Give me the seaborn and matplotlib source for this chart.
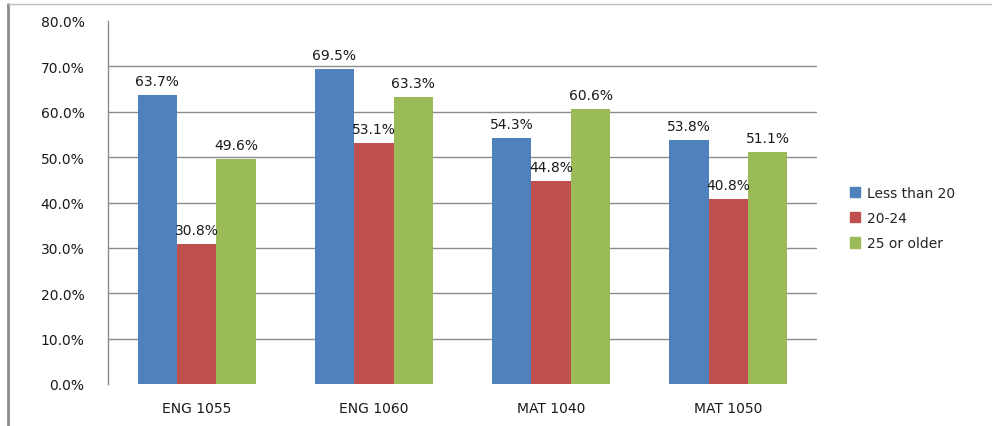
import matplotlib
matplotlib.use("Agg")
import matplotlib.pyplot as plt
from matplotlib.lines import Line2D
from matplotlib.ticker import FixedLocator
import seaborn as sns
import pandas as pd

courses = ["ENG 1055", "ENG 1060", "MAT 1040", "MAT 1050"]
age_groups = ["Less than 20", "20-24", "25 or older"]
less_than_20 = [63.7, 69.5, 54.3, 53.8]
age_20_24 = [30.8, 53.1, 44.8, 40.8]
age_25_plus = [49.6, 63.3, 60.6, 51.1]
y_ticks = [0, 10, 20, 30, 40, 50, 60, 70, 80]

palette = ["#4F81BD", "#C0504D", "#9BBB59"]

rows = []
for group, vals in zip(age_groups, [less_than_20, age_20_24, age_25_plus]):
    for course, v in zip(courses, vals):
        rows.append({"course": course, "age": group, "rate": v})
df = pd.DataFrame(rows)

sns.set_style("white")
plt.rcParams["font.family"] = ["DejaVu Sans"]
FS = 10

fig = plt.figure(figsize=(9.92, 4.27), dpi=100)
ax = fig.add_axes([108 / 992, 1 - 385 / 427, (817 - 108) / 992, (385 - 22) / 427])

sns.barplot(data=df, x="course", y="rate", hue="age", order=courses,
            hue_order=age_groups, palette=palette, width=2 / 3, gap=0,
            saturation=1, linewidth=0, ax=ax, legend=True)

ax.set_xlim(-0.5, len(courses) - 0.5)
ax.set_ylim(0, 80)
ax.set_yticks(y_ticks)
ax.set_yticklabels([f"{t:.1f}%" for t in y_ticks])
ax.set_xlabel("")
ax.set_ylabel("")

# horizontal gridlines
for t in y_ticks[1:-1]:
    ax.axhline(t, color="#8c8c8c", lw=1, zorder=0)

for side in ["top", "right", "bottom"]:
    ax.spines[side].set_visible(False)
ax.spines["left"].set_color("#8c8c8c")
ax.spines["left"].set_linewidth(1)

ax.tick_params(axis="y", length=0, pad=17, labelsize=FS, labelcolor="#1a1a1a")
ax.tick_params(axis="x", which="major", length=0, pad=12, labelsize=FS,
               labelcolor="#1a1a1a")
ax.xaxis.set_minor_locator(FixedLocator([i + 0.5 for i in range(len(courses))]))
ax.tick_params(axis="x", which="minor", length=4, color="#8c8c8c", width=1)

# value labels above each bar
for container in ax.containers:
    ax.bar_label(container, labels=[f"{b.get_height():.1f}%" for b in container],
                 padding=5, fontsize=FS, color="#1a1a1a")

handles = [plt.Rectangle((0, 0), 1, 1, color=c) for c in palette]
ax.legend(handles, age_groups, loc="center left", bbox_to_anchor=(850 / 992, 1 - 219 / 427),
          bbox_transform=fig.transFigure, frameon=False, fontsize=FS,
          handlelength=0.75, handleheight=0.75, handletextpad=0.45, labelspacing=0.82,
          borderaxespad=0, borderpad=0)

# chart-area border
fig.add_artist(Line2D([8 / 992, 8 / 992], [0, 1 - 5 / 427], transform=fig.transFigure,
                      color="#8a8a8a", lw=2))
fig.add_artist(Line2D([8 / 992, 1], [1 - 5 / 427, 1 - 5 / 427], transform=fig.transFigure,
                      color="#bdbdbd", lw=1))

fig.savefig("out.png", dpi=100)
